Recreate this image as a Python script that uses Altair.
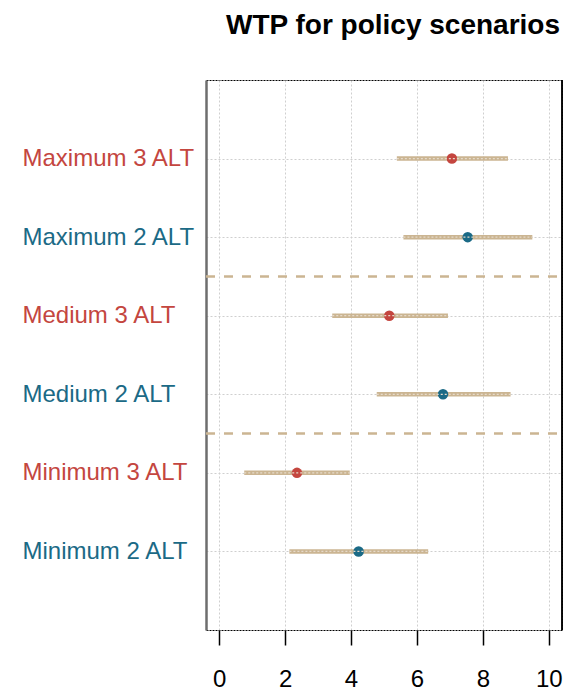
import altair as alt
import pandas as pd

categories = ["Minimum 2 ALT", "Minimum 3 ALT", "Medium 2 ALT", "Medium 3 ALT", "Maximum 2 ALT", "Maximum 3 ALT"]
wtp = [4.23, 2.36, 6.79, 5.16, 7.54, 7.06]
lower = [2.13, 0.76, 4.78, 3.43, 5.59, 5.39]
upper = [6.34, 3.96, 8.84, 6.94, 9.50, 8.76]
alts = ["2 ALT", "3 ALT", "2 ALT", "3 ALT", "2 ALT", "3 ALT"]
separators = [2.5, 4.5]
x_ticks = [0, 2, 4, 6, 8, 10]

RED = "#C4463F"
BLUE = "#1B6A86"
TAN = "#CBB592"

W, H = 356, 550

positions = list(range(1, len(categories) + 1))
df = pd.DataFrame({
    "cat": categories,
    "pos": positions,
    "wtp": wtp,
    "lo": lower,
    "hi": upper,
    "alt": alts,
})
sep_df = pd.DataFrame({"pos": separators})

label_arr = "[''," + ",".join("'" + c + "'" for c in categories) + ",'']"
red_pos = "[" + ",".join(str(p) for p, a in zip(positions, alts) if a == "3 ALT") + "]"

xscale = alt.Scale(domain=[-0.4, 10.4], nice=False, zero=False)
yscale = alt.Scale(domain=[0, len(categories) + 1], nice=False, zero=False)

base = alt.Chart(df)

bars = base.mark_rule(color=TAN, strokeWidth=4.5).encode(
    x=alt.X("lo:Q", scale=xscale, axis=alt.Axis(
        values=x_ticks, title=None, domain=False, tickSize=15, tickColor="#000",
        tickWidth=1.5, labelFontSize=24, labelPadding=22, labelColor="#000",
        labelFont="Liberation Sans", grid=True, gridColor="#cfcfcf",
        gridDash=[2, 2], gridWidth=1)),
    x2="hi:Q",
    y=alt.Y("pos:Q", scale=yscale, axis=alt.Axis(
        values=positions, title=None,
        labelExpr=label_arr + "[datum.value]",
        labelAlign="left", labelPadding=184, tickSize=0,
        labelFontSize=24, labelFont="Liberation Sans",
        labelColor={"condition": {"test": "indexof(" + red_pos + ", datum.value) >= 0", "value": RED}, "value": BLUE},
        domain=True, domainColor="#6e6e6e", domainWidth=2.5,
        grid=True, gridColor="#cfcfcf", gridDash=[2, 2], gridWidth=1)),
)

points = base.mark_circle(size=110, opacity=1).encode(
    x=alt.X("wtp:Q", scale=xscale),
    y=alt.Y("pos:Q", scale=yscale),
    color=alt.Color("alt:N", scale=alt.Scale(domain=["2 ALT", "3 ALT"], range=[BLUE, RED]), legend=None),
)

inner = base.mark_rule(color="#E6DACA", strokeWidth=1.2, strokeDash=[2, 2]).encode(
    x=alt.X("lo:Q", scale=xscale), x2="hi:Q", y=alt.Y("pos:Q", scale=yscale)
)

seps = alt.Chart(sep_df).mark_rule(color=TAN, strokeWidth=2.5, strokeDash=[9, 9]).encode(
    y=alt.Y("pos:Q", scale=yscale), x=alt.value(0), x2=alt.value(W)
)

right_edge = alt.Chart(sep_df).mark_rule(color="#000", strokeWidth=1.5).encode(
    x=alt.value(W), y=alt.value(0), y2=alt.value(H)
)

chart = alt.layer(bars, seps, points, inner, right_edge).properties(
    width=W, height=H,
    title=alt.TitleParams("WTP for policy scenarios", fontSize=28, font="Liberation Sans",
                          fontWeight="bold", color="#000", anchor="middle", dx=9, offset=39),
    autosize=alt.AutoSizeParams(type="none"),
    padding={"left": 198, "top": 72, "right": 8, "bottom": 60},
).configure_view(
    stroke="#000", strokeWidth=1, strokeDash=[2, 1]
)

chart.save("out.html", embed_options={"renderer": "svg", "actions": False})
